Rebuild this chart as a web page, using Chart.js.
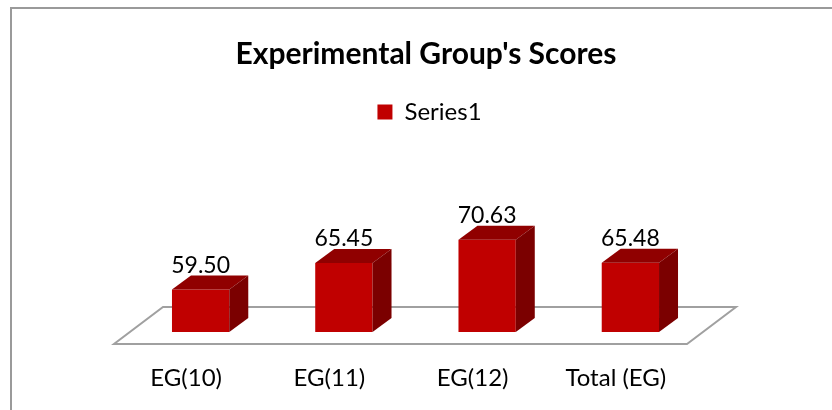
<!DOCTYPE html>
<html>
<head>
<meta charset="utf-8">
<title>Experimental Group's Scores</title>
<script src="https://cdn.jsdelivr.net/npm/chart.js@4"></script>
<style>
    html, body { margin: 0; padding: 0; background: #ffffff; overflow: hidden; }
    #wrap { position: relative; width: 832px; height: 410px; overflow: hidden; }
    #frame { position: absolute; left: 10px; top: 7px; width: 840px; height: 420px; border: 2px solid #9a9a9a; box-sizing: border-box; }
    canvas { position: absolute; left: 0; top: 0; }
</style>
</head>
<body>
<div id="wrap">
    <div id="frame"></div>
    <canvas id="scoresChart" width="832" height="410"></canvas>
</div>
<script>
const categories = ["EG(10)", "EG(11)", "EG(12)", "Total (EG)"];
const scores = [59.50, 65.45, 70.63, 65.48];
const seriesName = "Series1";
const chartTitle = "Experimental Group's Scores";

const depthX = 19;
const depthY = 14;

// title and legend sit a bit right of the plot centre in the original
const shiftPlugin = {
    id: "shift",
    afterLayout(chart) {
        chart.titleBlock.left += 21;
        chart.legend.left += 28;
    }
};

// floor of the 3d plot, sits behind the bars
const floorPlugin = {
    id: "floor",
    beforeDatasetsDraw(chart) {
        const area = chart.chartArea;
        const ctx = chart.ctx;
        ctx.save();
        ctx.strokeStyle = "#a0a0a0";
        ctx.lineWidth = 2;
        ctx.beginPath();
        ctx.moveTo(area.left - 15, area.bottom + 12);
        ctx.lineTo(area.right - 15, area.bottom + 12);
        ctx.lineTo(area.right + 34, area.bottom - 25);
        ctx.lineTo(area.left + 34, area.bottom - 25);
        ctx.closePath();
        ctx.stroke();
        ctx.restore();
    }
};

// top and side faces plus the value labels
const boxPlugin = {
    id: "boxes",
    afterDatasetsDraw(chart) {
        const ctx = chart.ctx;
        const meta = chart.getDatasetMeta(0);
        const bottom = chart.chartArea.bottom;
        ctx.save();
        meta.data.forEach(function (bar, i) {
            const left = bar.x - bar.width / 2;
            const right = bar.x + bar.width / 2;
            const top = bar.y;

            ctx.fillStyle = "#900000";
            ctx.beginPath();
            ctx.moveTo(left, top);
            ctx.lineTo(left + depthX, top - depthY);
            ctx.lineTo(right + depthX, top - depthY);
            ctx.lineTo(right, top);
            ctx.closePath();
            ctx.fill();

            ctx.fillStyle = "#7b0000";
            ctx.beginPath();
            ctx.moveTo(right, top);
            ctx.lineTo(right + depthX, top - depthY);
            ctx.lineTo(right + depthX, bottom - depthY);
            ctx.lineTo(right, bottom);
            ctx.closePath();
            ctx.fill();

            ctx.fillStyle = "#000000";
            ctx.font = "23px Lato";
            ctx.textAlign = "center";
            ctx.textBaseline = "alphabetic";
            ctx.fillText(scores[i].toFixed(2), bar.x, top - 17);
        });
        ctx.restore();
    }
};

new Chart(document.getElementById("scoresChart"), {
    type: "bar",
    data: {
        labels: categories,
        datasets: [{
            label: seriesName,
            data: scores,
            backgroundColor: "#c00000",
            borderWidth: 0,
            barPercentage: 0.8,
            categoryPercentage: 0.5
        }]
    },
    options: {
        responsive: false,
        animation: false,
        layout: {
            padding: { left: 129, right: 130, top: 0, bottom: 0 }
        },
        plugins: {
            title: {
                display: true,
                text: chartTitle,
                color: "#000000",
                font: { family: "Lato", size: 30, weight: "bold" },
                padding: { top: 36, bottom: 20 }
            },
            legend: {
                display: true,
                position: "top",
                labels: {
                    color: "#000000",
                    font: { family: "Lato", size: 24 },
                    boxWidth: 15,
                    boxHeight: 15,
                    padding: 8
                }
            },
            tooltip: { enabled: false }
        },
        scales: {
            x: {
                grid: { display: false },
                border: { display: false },
                ticks: {
                    color: "#000000",
                    font: { family: "Lato", size: 24 },
                    maxRotation: 0,
                    padding: 24,
                    labelOffset: -14.5
                },
                afterFit(scale) {
                    scale.height = 78;
                }
            },
            y: {
                display: false,
                min: 50,
                max: 94.3
            }
        }
    },
    plugins: [shiftPlugin, floorPlugin, boxPlugin]
});
</script>
</body>
</html>
